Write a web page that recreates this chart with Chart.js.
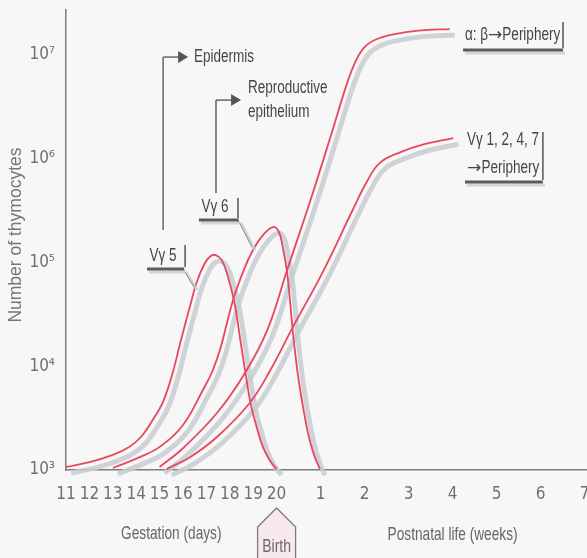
<!DOCTYPE html>
<html>
<head>
<meta charset="utf-8">
<script src="https://cdn.jsdelivr.net/npm/chart.js@4.4.0/dist/chart.umd.min.js"></script>
<style>
  html, body { margin: 0; padding: 0; background: #f7f7f7; }
  #wrap { width: 587px; height: 558px; }
</style>
</head>
<body>
<div id="wrap"><canvas id="thymocyteChart" width="587" height="558"></canvas></div>
<script>
// one shared axis: gestation days 11-20, then postnatal weeks (1 week = weekWidth day-widths after day 20)
const gestationDays = [11, 12, 13, 14, 15, 16, 17, 18, 19, 20];
const postnatalWeeks = [1, 2, 3, 4, 5, 6, 7];
const weekWidth = 1.88;
const yTickValues = [1e3, 1e4, 1e5, 1e6, 1e7];
const yTickLabels = ['10³', '10⁴', '10⁵', '10⁶', '10⁷'];

// Vγ5 (-> epidermis)
const vg5Pos = [11.0, 12.0, 13.0, 13.7, 14.2, 14.7, 15.15, 15.55, 15.9, 16.3, 16.6, 16.95, 17.2, 17.4, 17.65, 17.9, 18.2, 18.45, 18.65, 18.9, 19.15, 19.4, 19.7, 20.0];
const vg5Counts = [1070, 1190, 1400, 1670, 2080, 3020, 4570, 8510, 17400, 38000, 66100, 100000, 116000, 118000, 106000, 75900, 40700, 17900, 9200, 4240, 2590, 1700, 1250, 1020];

// Vγ6 (-> reproductive epithelium)
const vg6Pos = [13.0, 14.15, 15.0, 16.0, 16.85, 17.24, 17.58, 18.14, 18.6, 18.99, 19.42, 19.85, 20.1, 20.27, 20.44, 20.57, 20.7, 20.91, 21.13, 21.38, 21.6, 21.85];
const vg6Counts = [1045, 1330, 1670, 2720, 5900, 8810, 14400, 43600, 85100, 132000, 184000, 220000, 197000, 138000, 83200, 43600, 20900, 8240, 4050, 2080, 1400, 1020];

// α:β -> periphery
const abPos = [15.0, 16.0, 17.45, 18.65, 19.6, 20.45, 21.45, 22.3, 23.0, 23.4, 23.8, 24.4, 25.3, 26.35, 27.4];
const abCounts = [1070, 1620, 3540, 8610, 22300, 84700, 400000, 1620000, 5250000, 8950000, 12200000, 14600000, 16300000, 17400000, 17800000];

// Vγ1, 2, 4, 7 -> periphery
const vg1247Pos = [15.3, 16.3, 17.45, 18.85, 19.7, 20.7, 22.0, 23.25, 23.85, 24.4, 25.3, 26.35, 27.55];
const vg1247Counts = [1020, 1330, 2080, 4430, 8910, 24000, 83200, 321000, 597000, 910000, 1160000, 1390000, 1580000];

const weekPos = w => 20 + w * weekWidth;
const xTickValues = gestationDays.concat(postnatalWeeks.map(weekPos));
const xTickLabels = gestationDays.map(String).concat(postnatalWeeks.map(String));

const redLine = '#e8475e';
const shadowGrey = 'rgba(200, 205, 210, 0.85)';
const tickFont = "'Liberation Sans Narrow', 'DejaVu Sans Condensed', sans-serif";

const series = [
  [vg5Pos, vg5Counts],
  [vg6Pos, vg6Counts],
  [abPos, abCounts],
  [vg1247Pos, vg1247Counts]
];

const datasets = [];
series.forEach(([pos, counts]) => {
  const pts = pos.map((p, i) => ({ x: p, y: counts[i] }));
  datasets.push({
    data: pts, borderColor: redLine, borderWidth: 1.8, order: 1,
    pointRadius: 0, tension: 0.4, clip: false, fill: false
  });
  datasets.push({
    data: pts, borderColor: shadowGrey, borderWidth: 5, order: 2, isShadow: true,
    pointRadius: 0, tension: 0.4, clip: false, fill: false
  });
});

// offset the grey copies so they read as drop shadows
const shadowPlugin = {
  id: 'shadow',
  beforeDatasetDraw(chart, args) {
    if (chart.data.datasets[args.index].isShadow) {
      chart.ctx.save();
      chart.ctx.translate(5, 6);
    }
  },
  afterDatasetDraw(chart, args) {
    if (chart.data.datasets[args.index].isShadow) chart.ctx.restore();
  }
};

const backgroundPlugin = {
  id: 'bg',
  beforeDraw(chart) {
    const ctx = chart.ctx;
    ctx.save();
    ctx.fillStyle = '#f7f7f7';
    ctx.fillRect(0, 0, chart.width, chart.height);
    ctx.restore();
  }
};

// draws text pieces left to right, squeezed horizontally like a condensed face;
// the arrow pieces come from DejaVu so they keep full size
function narrowText(ctx, text, x, y, align, size, color, squeeze) {
  const k = squeeze || 0.75;
  const parts = text.split(/(→)/).filter(t => t.length);
  ctx.save();
  ctx.fillStyle = color;
  ctx.textBaseline = 'middle';
  ctx.textAlign = 'left';
  const fontFor = t => t === '→'
    ? (size * 0.95) + "px 'DejaVu Sans', sans-serif"
    : size + "px 'Liberation Sans', Arial, sans-serif";
  const widthOf = t => { ctx.font = fontFor(t); return ctx.measureText(t).width * (t === '→' ? 1 : k); };
  const total = parts.reduce((a, t) => a + widthOf(t), 0);
  let cx = align === 'center' ? x - total / 2 : (align === 'right' ? x - total : x);
  parts.forEach(t => {
    const w = widthOf(t);
    ctx.save();
    ctx.font = fontFor(t);
    ctx.translate(cx, y);
    if (t !== '→') ctx.scale(k, 1);
    ctx.fillText(t, 0, t === '→' ? 1 : 0);
    ctx.restore();
    cx += w;
  });
  ctx.restore();
}

function line(ctx, x1, y1, x2, y2, color, width) {
  ctx.save();
  ctx.strokeStyle = color;
  ctx.lineWidth = width;
  ctx.beginPath();
  ctx.moveTo(x1, y1);
  ctx.lineTo(x2, y2);
  ctx.stroke();
  ctx.restore();
}

function arrowHead(ctx, tipX, tipY, color) {
  ctx.save();
  ctx.fillStyle = color;
  ctx.beginPath();
  ctx.moveTo(tipX, tipY);
  ctx.lineTo(tipX - 10, tipY - 6);
  ctx.lineTo(tipX - 10, tipY + 6);
  ctx.closePath();
  ctx.fill();
  ctx.restore();
}

const annotationPlugin = {
  id: 'annotations',
  afterDraw(chart) {
    const { ctx, scales: { x, y }, chartArea } = chart;
    const px = p => x.getPixelForValue(p);
    const py = lg => y.getPixelForValue(Math.pow(10, lg));
    const ink = '#454545';
    const barInk = '#555';
    const underInk = '#5c5c5c';
    const leadInk = '#8a8a8a';
    const softGrey = 'rgba(200,204,208,0.8)';

    // Vγ5 label and leader
    line(ctx, px(16.0) + 3, py(4.937) + 3, px(16.47) + 3, py(4.764) + 3, softGrey, 3);
    line(ctx, px(16.0), py(4.937), px(16.47), py(4.764), leadInk, 1);
    line(ctx, px(14.46) + 2, py(4.937) + 3, px(16.05) + 2, py(4.937) + 3, softGrey, 3);
    line(ctx, px(14.46), py(4.937), px(16.05), py(4.937), underInk, 3);
    line(ctx, px(16.09), py(5.169), px(16.09), py(4.957), barInk, 1.5);
    narrowText(ctx, 'Vγ 5', px(15.15), py(5.063), 'center', 18, ink);

    // Epidermis arrow
    line(ctx, px(15.15), py(5.313), px(15.15), py(6.981), '#666', 1.5);
    line(ctx, px(15.15), py(6.981), px(15.9), py(6.981), '#666', 1.5);
    arrowHead(ctx, px(16.22), py(6.981), '#555');
    narrowText(ctx, 'Epidermis', px(16.47), py(6.981), 'left', 18, ink);

    // Vγ6 label and leader
    line(ctx, px(18.35) + 3, py(5.41) + 3, px(18.95) + 3, py(5.149) + 3, softGrey, 3);
    line(ctx, px(18.35), py(5.41), px(18.95), py(5.149), leadInk, 1);
    line(ctx, px(16.68) + 2, py(5.41) + 3, px(18.38) + 2, py(5.41) + 3, softGrey, 3);
    line(ctx, px(16.68), py(5.41), px(18.38), py(5.41), underInk, 3);
    line(ctx, px(18.35), py(5.622), px(18.35), py(5.429), barInk, 1.5);
    narrowText(ctx, 'Vγ 6', px(17.37), py(5.535), 'center', 18, ink);

    // Reproductive epithelium arrow
    line(ctx, px(17.41), py(5.67), px(17.41), py(6.566), '#666', 1.5);
    line(ctx, px(17.41), py(6.566), px(18.15), py(6.566), '#666', 1.5);
    arrowHead(ctx, px(18.48), py(6.566), '#555');
    narrowText(ctx, 'Reproductive', px(18.78), py(6.682), 'left', 18, ink);
    narrowText(ctx, 'epithelium', px(18.78), py(6.451), 'left', 18, ink);

    // α:β label
    line(ctx, px(27.97) + 2, py(7.048) + 3, px(32.24) + 2, py(7.048) + 3, softGrey, 3);
    line(ctx, px(27.97), py(7.048), px(32.24), py(7.048), underInk, 3);
    line(ctx, px(32.24), py(7.318), px(32.24), py(7.067), barInk, 1.5);
    narrowText(ctx, 'α: β→Periphery', px(28.05), py(7.193), 'left', 18, ink);

    // Vγ1, 2, 4, 7 label
    line(ctx, px(28.05) + 2, py(5.776) + 3, px(31.38) + 2, py(5.776) + 3, softGrey, 3);
    line(ctx, px(28.05), py(5.776), px(31.38), py(5.776), underInk, 3);
    line(ctx, px(31.38), py(6.258), px(31.38), py(5.795), barInk, 1.5);
    narrowText(ctx, 'Vγ 1, 2, 4, 7', px(28.14), py(6.181), 'left', 18, ink);
    narrowText(ctx, '→Periphery', px(28.14), py(5.911), 'left', 18, ink);

    // axis group titles
    const base = chartArea.bottom;
    narrowText(ctx, 'Gestation (days)', px(15.5), base + 64, 'center', 19, '#666', 0.72);
    narrowText(ctx, 'Postnatal life (weeks)', px(weekPos(4)), base + 65, 'center', 19, '#666', 0.72);

    // Birth marker under day 20
    const bx = px(20);
    ctx.save();
    ctx.fillStyle = '#f7e9ee';
    ctx.strokeStyle = '#85777c';
    ctx.lineWidth = 1.3;
    ctx.beginPath();
    ctx.moveTo(bx - 19, base + 100);
    ctx.lineTo(bx - 19, base + 57);
    ctx.lineTo(bx, base + 38);
    ctx.lineTo(bx + 19, base + 57);
    ctx.lineTo(bx + 19, base + 100);
    ctx.fill();
    ctx.stroke();
    ctx.restore();
    narrowText(ctx, 'Birth', bx, base + 77, 'center', 18, '#6a6a6a', 0.78);

    // y axis title
    ctx.save();
    ctx.translate(16, py(5.265));
    ctx.rotate(-Math.PI / 2);
    ctx.font = "17.5px 'Liberation Sans', Arial, sans-serif";
    ctx.fillStyle = '#777';
    ctx.textAlign = 'center';
    ctx.textBaseline = 'middle';
    ctx.fillText('Number of thymocytes', 0, 0);
    ctx.restore();
  }
};

new Chart(document.getElementById('thymocyteChart').getContext('2d'), {
  type: 'line',
  data: { datasets },
  options: {
    responsive: false,
    devicePixelRatio: 1,
    animation: false,
    events: [],
    layout: { padding: { top: 10, right: 0, left: 0, bottom: 0 } },
    plugins: { legend: { display: false }, tooltip: { enabled: false } },
    scales: {
      x: {
        type: 'linear',
        min: 11,
        max: 33.265,
        bounds: 'data',
        grid: { display: false, drawTicks: false },
        border: { display: true, color: '#7d7d7d', width: 1.5 },
        ticks: {
          autoSkip: false,
          maxRotation: 0,
          padding: 14,
          color: '#707070',
          font: { family: tickFont, size: 17 },
          callback: (v, i) => xTickLabels[i]
        },
        afterBuildTicks: s => { s.ticks = xTickValues.map(v => ({ value: v })); },
        afterFit: s => { s.height = 88; s.paddingLeft = 0; s.paddingRight = 0; }
      },
      y: {
        type: 'logarithmic',
        min: 1000,
        max: 2.72e7,
        bounds: 'data',
        grid: { display: false, drawTicks: false },
        border: { display: true, color: '#7d7d7d', width: 1.5 },
        ticks: {
          autoSkip: false,
          padding: 11,
          color: '#707070',
          font: { family: tickFont, size: 17 },
          callback: (v, i) => yTickLabels[i]
        },
        afterBuildTicks: s => { s.ticks = yTickValues.map(v => ({ value: v })); },
        afterFit: s => { s.width = 66; s.paddingTop = 0; s.paddingBottom = 0; }
      }
    }
  },
  plugins: [backgroundPlugin, shadowPlugin, annotationPlugin]
});
</script>
</body>
</html>
